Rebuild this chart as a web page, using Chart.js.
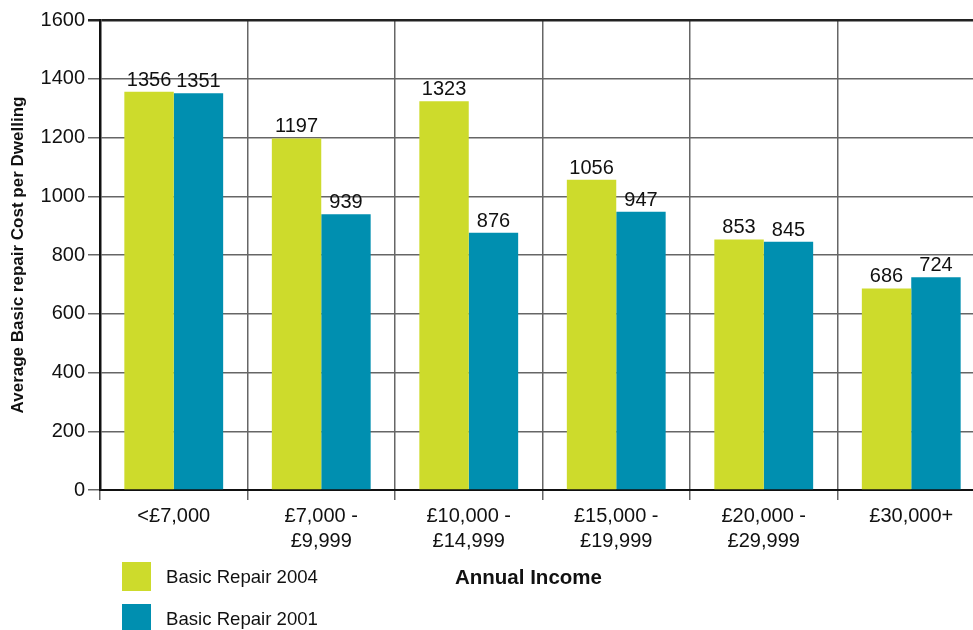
<!DOCTYPE html>
<html>
<head>
<meta charset="utf-8">
<script src="https://cdn.jsdelivr.net/npm/chart.js@4/dist/chart.umd.min.js"></script>
<style>
  html, body { margin: 0; padding: 0; background: #fff; overflow: hidden; }
  body { width: 973px; height: 630px; position: relative; font-family: "Liberation Sans", Arial, sans-serif; }
  #wrap { position: absolute; left: 0; top: 0; width: 990px; height: 630px; }
  .legend { position: absolute; left: 122px; top: 562px; }
  .legend-item { position: relative; height: 42px; }
  .legend-item .sw { position: absolute; left: 0; top: 0; width: 29px; height: 29px; }
  .legend-item .tx { position: absolute; left: 44px; top: 4px; font-size: 18.6px; color: #111; white-space: nowrap; }
  #xtitle { position: absolute; left: 455px; top: 565px; font-size: 20.5px; font-weight: bold; color: #111; }
</style>
</head>
<body>
<div id="wrap"><canvas id="chart"></canvas></div>
<div class="legend" id="legend"></div>
<div id="xtitle">Annual Income</div>
<script>
const categories = [['<£7,000'], ['£7,000 -', '£9,999'], ['£10,000 -', '£14,999'], ['£15,000 -', '£19,999'], ['£20,000 -', '£29,999'], ['£30,000+']];
const repair2004 = [1356, 1197, 1323, 1056, 853, 686];
const repair2001 = [1351, 939, 876, 947, 845, 724];
const seriesLabels = ['Basic Repair 2004', 'Basic Repair 2001'];
const seriesColors = ['#cddb2c', '#008fb0'];
const yTicks = [0, 200, 400, 600, 800, 1000, 1200, 1400, 1600];

const FONT = '"Liberation Sans", Arial, sans-serif';

// value labels sitting just above each bar
const barValues = {
  id: 'barValues',
  afterDatasetsDraw(chart) {
    const ctx = chart.ctx;
    ctx.save();
    ctx.font = '20px ' + FONT;
    ctx.fillStyle = '#111';
    ctx.textAlign = 'center';
    ctx.textBaseline = 'alphabetic';
    chart.data.datasets.forEach((ds, i) => {
      chart.getDatasetMeta(i).data.forEach((bar, j) => {
        ctx.fillText(String(ds.data[j]), bar.x, bar.y - 6);
      });
    });
    ctx.restore();
  }
};

new Chart(document.getElementById('chart'), {
  type: 'bar',
  data: {
    labels: categories,
    datasets: [
      { label: seriesLabels[0], data: repair2004, backgroundColor: seriesColors[0] },
      { label: seriesLabels[1], data: repair2001, backgroundColor: seriesColors[1] }
    ]
  },
  options: {
    responsive: true,
    maintainAspectRatio: false,
    animation: false,
    layout: { padding: { top: 20, right: 5, left: 0, bottom: 0 } },
    datasets: { bar: { categoryPercentage: 0.67, barPercentage: 1.0 } },
    plugins: { legend: { display: false }, tooltip: { enabled: false } },
    scales: {
      x: {
        grid: { color: '#666', lineWidth: 1.5, tickLength: 10, offset: true },
        border: { color: '#111', width: 2 },
        ticks: { color: '#111', font: { family: FONT, size: 20, lineHeight: 1.25 }, padding: 4, maxRotation: 0, autoSkip: false },
        afterFit: s => { s.height = 140; }
      },
      y: {
        min: 0,
        max: 1600,
        afterBuildTicks: s => { s.ticks = yTicks.map(v => ({ value: v })); },
        grid: {
          color: c => c.tick && c.tick.value === 1600 ? '#222' : '#666',
          lineWidth: c => c.tick && c.tick.value === 1600 ? 2.5 : 1.5,
          tickLength: 12
        },
        border: { color: '#111', width: 2.5 },
        ticks: { color: '#111', font: { family: FONT, size: 20 }, padding: 3, callback: v => String(v) },
        title: {
          display: true,
          text: 'Average Basic repair Cost per Dwelling',
          color: '#111',
          font: { family: FONT, size: 17, weight: 'bold' },
          padding: { top: 8, bottom: 0 }
        },
        afterFit: s => { s.width = 100; }
      }
    }
  },
  plugins: [barValues]
});

// legend swatches built from the series arrays
const legend = document.getElementById('legend');
seriesLabels.forEach((lab, i) => {
  const item = document.createElement('div');
  item.className = 'legend-item';
  item.innerHTML = '<div class="sw" style="background:' + seriesColors[i] + '"></div><div class="tx">' + lab + '</div>';
  legend.appendChild(item);
});
</script>
</body>
</html>
